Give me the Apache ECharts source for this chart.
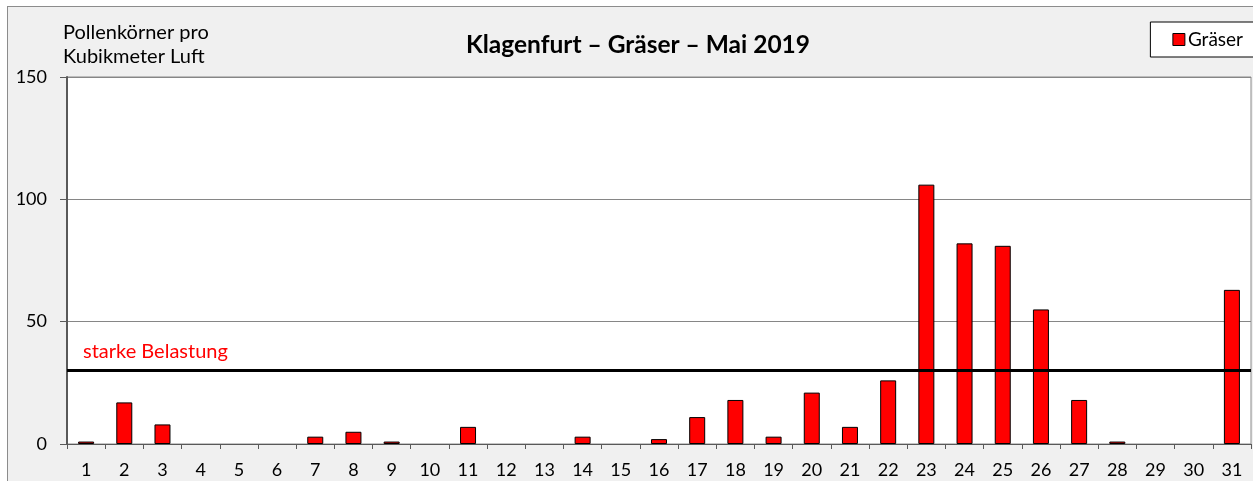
<!DOCTYPE html>
<html>
<head>
<meta charset="utf-8">
<script src="https://cdn.jsdelivr.net/npm/echarts@6/dist/echarts.min.js"></script>
<style>
  html, body { margin: 0; padding: 0; background: #fff; }
  #frame { position: absolute; left: 7px; top: 6px; width: 1300px; height: 600px;
           background: #f0f0f0; border: 1px solid #8c8c8c; }
  #chart { position: absolute; left: 0; top: 0; width: 1253px; height: 481px; }
</style>
</head>
<body>
<div id="frame"></div>
<div id="chart"></div>
<script>
// Klagenfurt, Gräser, Mai 2019 – Pollenkörner pro m³ Luft
const days = Array.from({ length: 31 }, (_, i) => String(i + 1))
const grassValues = [1, 17, 8, 0, 0, 0, 3, 5, 1, 0, 7, 0, 0, 3, 0, 2, 11, 18, 3, 21,
  7, 26, 106, 82, 81, 55, 18, 1, 0, 0, 63]
const yTicks = { min: 0, max: 150, interval: 50 }
const threshold = 30

const font = 'Lato, "Open Sans", sans-serif'

const chart = echarts.init(document.getElementById('chart'), null, { renderer: 'canvas' })

chart.setOption({
  animation: false,
  backgroundColor: 'transparent',
  textStyle: { fontFamily: font },
  title: {
    text: 'Klagenfurt – Gräser – Mai 2019',
    left: 633,
    textAlign: 'center',
    top: 28,
    textStyle: { fontSize: 24.5, fontWeight: 'bold', color: '#000', fontFamily: font }
  },
  legend: {
    right: -2,
    top: 22,
    itemWidth: 12,
    itemHeight: 12,
    itemGap: 4,
    padding: [8, 12, 8, 22],
    backgroundColor: '#fff',
    borderColor: '#000',
    borderWidth: 1,
    borderRadius: 0,
    textStyle: { fontSize: 19, color: '#000', fontFamily: font, padding: [0, 0, 0, -2] },
    data: [{ name: 'Gräser', icon: 'rect', itemStyle: { borderColor: '#000', borderWidth: 1 } }]
  },
  grid: {
    left: 67, right: 2, top: 77, bottom: 37,
    show: true,
    backgroundColor: '#fff',
    borderColor: '#8a8a8a',
    borderWidth: 1
  },
  xAxis: {
    type: 'category',
    data: days,
    axisLine: { lineStyle: { color: '#595959', width: 1 } },
    axisTick: { show: true, length: 5, lineStyle: { color: '#595959' } },
    axisLabel: { color: '#000', fontSize: 18, margin: 17, interval: 0, fontFamily: font }
  },
  yAxis: {
    type: 'value',
    min: yTicks.min,
    max: yTicks.max,
    interval: yTicks.interval,
    name: 'Pollenkörner pro\nKubikmeter Luft',
    nameLocation: 'end',
    nameGap: 8,
    nameTextStyle: {
      align: 'left', color: '#000', fontSize: 20, lineHeight: 24,
      padding: [0, 0, 0, -4], fontFamily: font
    },
    axisLine: { show: true, lineStyle: { color: '#595959', width: 2 } },
    axisTick: { show: true, length: 7, lineStyle: { color: '#595959' } },
    axisLabel: { color: '#000', fontSize: 18, margin: 20, fontFamily: font },
    splitLine: { lineStyle: { color: '#868686', width: 1 } }
  },
  series: [{
    name: 'Gräser',
    type: 'bar',
    // zero days draw no bar at all in the reference
    data: grassValues.map(v => (v === 0 ? null : v)),
    barWidth: 16,
    itemStyle: { color: '#ff0000', borderColor: '#000', borderWidth: 1 },
    markLine: {
      silent: true,
      symbol: 'none',
      lineStyle: { color: '#000', width: 3, type: 'solid' },
      label: {
        show: true,
        position: 'insideStartTop',
        formatter: 'starke Belastung',
        color: '#ff0000',
        fontSize: 20,
        fontFamily: font,
        distance: [16, 9]
      },
      data: [{ yAxis: threshold }]
    }
  }]
})
</script>
</body>
</html>
